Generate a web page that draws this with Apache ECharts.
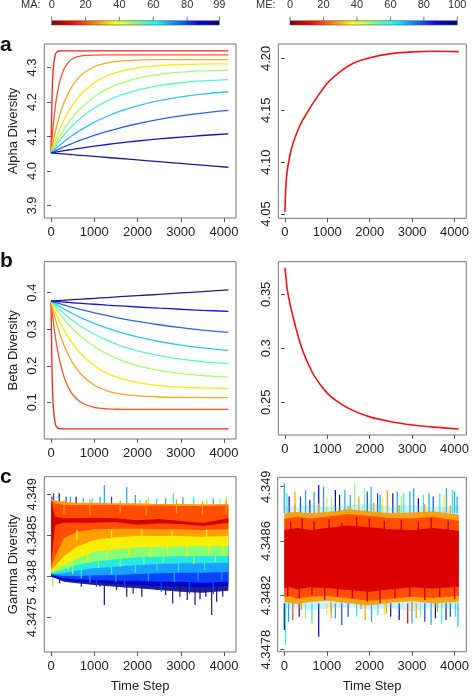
<!DOCTYPE html>
<html><head><meta charset="utf-8">
<script src="https://cdn.jsdelivr.net/npm/echarts@6/dist/echarts.min.js"></script>
<style>html,body{margin:0;padding:0;background:#fff}#c{width:472px;height:698px}</style>
</head><body><div id="c"></div>
<script>
const FONT = 'Liberation Sans';
// ---------- time axes ----------
const timeSteps = [0,25,50,100,150,200,300,400,500,700,1000,1300,1600,2000,2500,3000,3500,4100];
const gammaSteps = [0,100,300,600,1000,1500,2000,2500,3000,3500,4100];
const timeTicks = [0,1000,2000,3000,4000];
const timeTickLabels = ['0','1000','2000','3000','4000'];

// ---------- colour bars ----------
const maTicks = [0,20,40,60,80,99];
const meTicks = [0,20,40,60,80,100];

// ---------- panel a (alpha) ----------
const alphaTicks = [3.9,4.0,4.1,4.2,4.3];
const alphaTickLabels = ['3.9','4.0','4.1','4.2','4.3'];
const alpha_MA0  = [4.0525,4.219,4.292,4.3374,4.346,4.3477,4.348,4.348,4.348,4.348,4.348,4.348,4.348,4.348,4.348,4.348,4.348,4.348];
const alpha_MA11 = [4.0525,4.0947,4.1309,4.1875,4.2285,4.2583,4.2955,4.315,4.3252,4.3334,4.336,4.3364,4.3365,4.3365,4.3365,4.3365,4.3365,4.3365];
const alpha_MA22 = [4.0525,4.0693,4.085,4.1135,4.139,4.161,4.1977,4.226,4.2479,4.2781,4.3022,4.3133,4.3185,4.3214,4.3226,4.3229,4.323,4.323];
const alpha_MA33 = [4.0525,4.0623,4.0716,4.0894,4.1058,4.121,4.1481,4.1713,4.1913,4.223,4.2555,4.276,4.289,4.2991,4.3055,4.3084,4.3098,4.3105];
const alpha_MA44 = [4.0525,4.0591,4.0656,4.078,4.0897,4.1008,4.1212,4.1395,4.1559,4.1836,4.2152,4.2378,4.254,4.2687,4.2799,4.2863,4.29,4.2925];
const alpha_MA55 = [4.0525,4.0574,4.0622,4.0714,4.0802,4.0886,4.1044,4.1188,4.1319,4.1549,4.1824,4.2033,4.2192,4.2347,4.2476,4.2558,4.261,4.2648];
const alpha_MA66 = [4.0525,4.0554,4.0584,4.064,4.0695,4.0749,4.085,4.0946,4.1036,4.12,4.1412,4.1587,4.1733,4.189,4.2039,4.2148,4.2228,4.2297];
const alpha_MA77 = [4.0525,4.054,4.0556,4.0585,4.0615,4.0643,4.0699,4.0753,4.0804,4.0901,4.1032,4.1148,4.1251,4.137,4.1495,4.1596,4.1679,4.1759];
const alpha_MA88 = [4.0525,4.0531,4.0536,4.0547,4.0558,4.0568,4.0589,4.061,4.0629,4.0667,4.072,4.0769,4.0815,4.087,4.093,4.0983,4.103,4.1078];
const alpha_MA99 = [4.0525,4.0522,4.052,4.0515,4.051,4.0505,4.0495,4.0485,4.0474,4.0454,4.0424,4.0393,4.0363,4.0323,4.0272,4.0221,4.0171,4.011];
const alphaMETicks = [4.05,4.10,4.15,4.20];
const alphaMETickLabels = ['4.05','4.10','4.15','4.20'];
const alpha_ME = [4.052,4.078,4.090,4.103,4.112,4.119,4.130,4.139,4.146,4.159,4.176,4.187,4.195,4.2005,4.2045,4.2062,4.2068,4.2065];

// ---------- panel b (beta) ----------
const betaTicks = [0.1,0.2,0.3,0.4];
const betaTickLabels = ['0.1','0.2','0.3','0.4'];
const beta_MA0  = [0.377,0.1794,0.0936,0.0401,0.0299,0.028,0.0276,0.0276,0.0276,0.0276,0.0276,0.0276,0.0276,0.0276,0.0276,0.0276,0.0276,0.0276];
const beta_MA11 = [0.377,0.3489,0.3234,0.2795,0.2436,0.2142,0.1704,0.1411,0.1214,0.0994,0.086,0.0821,0.081,0.0805,0.0805,0.0805,0.0805,0.0805];
const beta_MA22 = [0.377,0.3639,0.3514,0.3283,0.3074,0.2885,0.2561,0.2297,0.2081,0.1763,0.1473,0.1316,0.1231,0.1175,0.1146,0.1136,0.1132,0.1131];
const beta_MA33 = [0.377,0.3691,0.3615,0.347,0.3335,0.3208,0.2979,0.2778,0.2602,0.2314,0.2003,0.1794,0.1654,0.1537,0.1456,0.1414,0.1393,0.138];
const beta_MA44 = [0.377,0.3724,0.3679,0.3592,0.3508,0.3428,0.3279,0.3141,0.3015,0.2794,0.2527,0.2321,0.2162,0.2006,0.1873,0.1788,0.1732,0.1691];
const beta_MA55 = [0.377,0.3739,0.3708,0.3649,0.3591,0.3536,0.343,0.3331,0.3239,0.3073,0.2863,0.2693,0.2554,0.2408,0.2275,0.218,0.2113,0.2058];
const beta_MA66 = [0.377,0.3751,0.3732,0.3694,0.3658,0.3622,0.3554,0.3489,0.3427,0.3312,0.316,0.3029,0.2916,0.279,0.2664,0.2566,0.2489,0.242];
const beta_MA77 = [0.377,0.3761,0.3751,0.3733,0.3715,0.3697,0.3662,0.3628,0.3596,0.3534,0.3447,0.3369,0.3298,0.3214,0.3122,0.3044,0.2978,0.2912];
const beta_MA88 = [0.377,0.3768,0.3765,0.3761,0.3756,0.3751,0.3742,0.3733,0.3724,0.3707,0.3683,0.3659,0.3637,0.3608,0.3576,0.3546,0.3518,0.3488];
const beta_MA99 = [0.377,0.3772,0.3774,0.3777,0.3781,0.3785,0.3792,0.38,0.3807,0.3822,0.3844,0.3866,0.3889,0.3918,0.3955,0.3992,0.4029,0.4074];
const betaMETicks = [0.25,0.3,0.35];
const betaMETickLabels = ['0.25','0.3','0.35'];
const beta_ME = [0.3746,0.366,0.356,0.345,0.336,0.328,0.313,0.300,0.290,0.274,0.2585,0.249,0.2425,0.2365,0.232,0.229,0.227,0.2253];

// ---------- panel c (gamma), left: band envelopes per MA ----------
const gammaTicks = [4.3475,4.348,4.3485,4.349];
const gammaTickLabels = ['4.3475','4.348','4.3485','4.349'];
const gamma_MA99_lo = [4.347996,4.347975,4.347935,4.347914,4.347894,4.347874,4.347853,4.347833,4.347813,4.347801,4.347825];
const gamma_MA99_hi = [4.348930,4.348890,4.348727,4.348605,4.348483,4.348402,4.348321,4.348280,4.348239,4.348239,4.348239];
const gamma_MA88_lo = [4.347996,4.347987,4.347955,4.347935,4.347922,4.347906,4.347894,4.347882,4.347874,4.347866,4.347882];
const gamma_MA88_hi = [4.348930,4.348890,4.348768,4.348666,4.348565,4.348483,4.348422,4.348382,4.348341,4.348321,4.348321];
const gamma_MA77_lo = [4.348016,4.348004,4.347975,4.347963,4.347955,4.347947,4.347947,4.347935,4.347935,4.347922,4.347935];
const gamma_MA77_hi = [4.348930,4.348910,4.348809,4.348727,4.348646,4.348585,4.348524,4.348483,4.348443,4.348422,4.348422];
const gamma_MA66_lo = [4.348028,4.348016,4.348004,4.348004,4.348012,4.348016,4.348028,4.348036,4.348044,4.348044,4.348053];
const gamma_MA66_hi = [4.348939,4.348922,4.348849,4.348788,4.348727,4.348687,4.348638,4.348605,4.348573,4.348556,4.348544];
const gamma_MA55_lo = [4.348036,4.348028,4.348036,4.348069,4.348097,4.348117,4.348138,4.348150,4.348158,4.348158,4.348166];
const gamma_MA55_hi = [4.348939,4.348930,4.348890,4.348841,4.348809,4.348768,4.348748,4.348727,4.348707,4.348687,4.348687];
const gamma_MA44_lo = [4.348044,4.348053,4.348085,4.348138,4.348179,4.348207,4.348232,4.348240,4.348248,4.348248,4.348248];
const gamma_MA44_hi = [4.348930,4.348930,4.348898,4.348870,4.348849,4.348841,4.348829,4.348817,4.348809,4.348800,4.348809];
const gamma_MA33_lo = [4.348057,4.348077,4.348138,4.348219,4.348301,4.348329,4.348354,4.348362,4.348370,4.348370,4.348370];
const gamma_MA33_hi = [4.348930,4.348922,4.348910,4.348890,4.348882,4.348870,4.348870,4.348857,4.348857,4.348849,4.348857];
const gamma_MA22_lo = [4.348077,4.348126,4.348248,4.348362,4.348443,4.348475,4.348492,4.348492,4.348492,4.348484,4.348492];
const gamma_MA22_hi = [4.348939,4.348922,4.348910,4.348898,4.348898,4.348890,4.348890,4.348882,4.348882,4.348878,4.348882];
const gamma_MA11_lo = [4.348097,4.348248,4.348463,4.348545,4.348573,4.348581,4.348581,4.348573,4.348573,4.348565,4.348573];
const gamma_MA11_hi = [4.348930,4.348890,4.348870,4.348870,4.348870,4.348870,4.348865,4.348865,4.348857,4.348857,4.348865];
const gamma_MA0_lo  = [4.348158,4.348626,4.348654,4.348654,4.348654,4.348662,4.348630,4.348646,4.348638,4.348614,4.348654];
const gamma_MA0_hi  = [4.348931,4.348728,4.348707,4.348707,4.348715,4.348707,4.348683,4.348699,4.348675,4.348650,4.348707];
// outlying excursions beyond the cloud [time, from, to, colour index 0=MA0 .. 9=MA99]
const gammaMA_outliers = [
  [20,4.34888,4.348971,9],[60,4.34888,4.349012,7],[190,4.34888,4.349012,8],[350,4.34888,4.348971,7],
  [450,4.34888,4.348971,6],[580,4.34888,4.348971,8],[747,4.34888,4.348951,6],[950,4.34888,4.348951,5],
  [1133,4.34888,4.348971,6],[1233,4.34888,4.349113,6],[1400,4.34888,4.348971,7],[1750,4.34888,4.349093,6],
  [1950,4.34888,4.348992,6],[2058,4.34888,4.348930,5],[2250,4.34888,4.348971,4],[2440,4.34888,4.348951,5],
  [2650,4.34888,4.348951,6],[2828,4.34888,4.349012,5],[3050,4.34888,4.348971,6],[3300,4.34888,4.348971,5],
  [3600,4.34888,4.348939,4],[3750,4.34888,4.348951,6],[3908,4.34888,4.348951,4],[4050,4.34888,4.348971,4],
  [40,4.34800,4.347874,4],[200,4.34800,4.347914,8],[362,4.34800,4.347975,9],[700,4.34795,4.347874,9],
  [1133,4.34790,4.347874,9],[1233,4.34790,4.347650,9],[1515,4.34790,4.347833,9],[1750,4.34790,4.347752,9],
  [1900,4.34790,4.347792,9],[2100,4.34790,4.347752,9],[2440,4.34790,4.347833,8],[2650,4.34790,4.347772,9],
  [2813,4.34790,4.347670,9],[2980,4.34790,4.347752,9],[3150,4.34790,4.347712,9],[3330,4.34790,4.347650,9],
  [3445,4.34790,4.347719,8],[3580,4.34790,4.347752,8],[3715,4.34790,4.347528,9],[3830,4.34790,4.347691,9],
  [3970,4.34790,4.347752,9]
];
// excursions across neighbouring colour layers [time, from, to, colour index]
const gammaMA_crossings = [
  [300,4.348768,4.348931,2],[900,4.348748,4.348939,2],[1600,4.348768,4.348922,2],[2200,4.348748,4.348931,2],
  [2900,4.348768,4.348939,2],[3500,4.348748,4.348922,2],[4050,4.348768,4.348931,2],
  [600,4.348443,4.348565,3],[1400,4.348475,4.348573,3],[2100,4.348475,4.348581,3],[2800,4.348475,4.348565,3],[3600,4.348475,4.348573,3],
  [400,4.348199,4.348077,3],[850,4.348301,4.348179,3],[1300,4.348341,4.348219,3],[1800,4.348362,4.348248,3],
  [2300,4.348370,4.348232,3],[2700,4.348382,4.348272,3],[3150,4.348382,4.348240,3],[3650,4.348382,4.348280,3],[4000,4.348382,4.348260,3],
  [500,4.348138,4.348028,4],[1100,4.348199,4.348097,4],[1600,4.348219,4.348117,4],[2150,4.348248,4.348138,4],
  [2600,4.348256,4.348166,4],[3300,4.348260,4.348150,4],[3800,4.348260,4.348179,4],
  [700,4.348085,4.347975,5],[1400,4.348126,4.348028,5],[1950,4.348150,4.348044,5],[2450,4.348158,4.348069,5],
  [2950,4.348166,4.348057,5],[3550,4.348175,4.348077,5],
  [900,4.348028,4.347922,6],[1500,4.348028,4.347935,6],[2250,4.348044,4.347947,6],[2850,4.348053,4.347930,6],
  [3400,4.348053,4.347947,6],[3950,4.348061,4.347955,6],
  [1050,4.347963,4.347874,7],[1700,4.347955,4.347853,7],[2550,4.347947,4.347813,7],[3200,4.347947,4.347792,7],[3750,4.347935,4.347784,7]
];

// ---------- panel c (gamma), right: envelopes over all ME ----------
const gammaMETicks = [4.3478,4.3482,4.3486,4.349];
const gammaMETickLabels = ['4.3478','4.3482','4.3486','4.349'];
const gammaME_outer_lo = [4.348116,4.348097,4.348111,4.348087,4.348102,4.348116,4.348092,4.348107,4.348082,4.348111,4.348097];
const gammaME_outer_hi = [4.348841,4.348858,4.348848,4.348868,4.348853,4.348863,4.348877,4.348853,4.348863,4.348848,4.348858];
const gammaME_mid_lo   = [4.348153,4.348146,4.348136,4.348151,4.348161,4.348141,4.348126,4.348146,4.348156,4.348141,4.348151];
const gammaME_mid_hi   = [4.348799,4.348809,4.348814,4.348804,4.348814,4.348833,4.348819,4.348804,4.348809,4.348819,4.348794];
const gammaME_inner_lo = [4.348190,4.348195,4.348175,4.348190,4.348195,4.348178,4.348161,4.348175,4.348190,4.348180,4.348195];
const gammaME_inner_hi = [4.348760,4.348770,4.348779,4.348765,4.348779,4.348799,4.348784,4.348770,4.348765,4.348779,4.348750];
const gammaME_core_lo  = [4.348251,4.348264,4.348244,4.348259,4.348254,4.348239,4.348227,4.348244,4.348259,4.348251,4.348264];
const gammaME_core_hi  = [4.348681,4.348686,4.348696,4.348681,4.348696,4.348715,4.348701,4.348686,4.348681,4.348696,4.348676];
const gammaME_outliers = [
  [0,4.348804,4.349025,6],[60,4.348804,4.348951,5],[115,4.348804,4.348927,8],[250,4.348804,4.348964,2],
  [380,4.348804,4.348927,7],[500,4.348804,4.348976,6],[600,4.348804,4.348902,9],[700,4.348804,4.348964,6],
  [808,4.348804,4.349013,8],[923,4.348804,4.349000,6],[1000,4.348804,4.348914,3],[1116,4.348804,4.348927,4],
  [1200,4.348804,4.348976,8],[1300,4.348804,4.348939,9],[1423,4.348804,4.348976,6],[1550,4.348804,4.348939,6],
  [1654,4.348804,4.349025,4],[1750,4.348804,4.348927,2],[1885,4.348804,4.348988,4],[1950,4.348804,4.348964,7],
  [2039,4.348804,4.349000,6],[2192,4.348804,4.348951,7],[2250,4.348804,4.348939,6],[2300,4.348804,4.348914,3],
  [2423,4.348804,4.348976,2],[2550,4.348804,4.348951,9],[2654,4.348804,4.348964,6],[2750,4.348804,4.348927,4],
  [2808,4.348804,4.348951,5],[2950,4.348804,4.348964,6],[3039,4.348804,4.348988,6],[3150,4.348804,4.348914,8],
  [3269,4.348804,4.348939,5],[3400,4.348804,4.348951,6],[3500,4.348804,4.348927,7],[3654,4.348804,4.348951,5],
  [3750,4.348804,4.348939,3],[3808,4.348804,4.348988,6],[3950,4.348804,4.348976,5],[4000,4.348804,4.348964,6],
  [4060,4.348804,4.348927,6],
  [0,4.348141,4.347944,9],[30,4.348141,4.347834,5],[100,4.348141,4.348006,6],[200,4.348141,4.348018,1],
  [350,4.348141,4.348043,9],[500,4.348141,4.348030,4],[650,4.348141,4.347993,5],[808,4.348141,4.347895,8],
  [1000,4.348141,4.348055,3],[1100,4.348141,4.348030,2],[1200,4.348141,4.348030,6],[1350,4.348141,4.347981,7],
  [1500,4.348141,4.348043,7],[1700,4.348141,4.348043,5],[1900,4.348141,4.348018,2],[2050,4.348141,4.348006,6],
  [2200,4.348141,4.348055,5],[2350,4.348141,4.348055,3],[2500,4.348141,4.348043,9],[2700,4.348141,4.348018,8],
  [2900,4.348141,4.347993,0],[3000,4.348141,4.347993,6],[3100,4.348141,4.348030,2],[3200,4.348141,4.348043,4],
  [3300,4.348141,4.348006,7],[3450,4.348141,4.347981,6],[3550,4.348141,4.348030,9],[3700,4.348141,4.347993,5],
  [3800,4.348141,4.348018,9],[3900,4.348141,4.348043,7],[4020,4.348141,4.348043,5],[4080,4.348141,4.347969,6]
];
const gammaME_orangeEdges = [
  [250,4.348804,4.348865,2],[800,4.348804,4.348878,2],[1500,4.348804,4.348858,2],[2100,4.348804,4.348882,2],
  [2700,4.348804,4.348865,2],[3300,4.348804,4.348873,2],[3900,4.348804,4.348863,2],
  [400,4.348153,4.348092,2],[1100,4.348153,4.348080,2],[1800,4.348153,4.348097,2],[2400,4.348153,4.348067,2],
  [3000,4.348153,4.348087,2],[3600,4.348153,4.348077,2]
];
const gammaME_redEdges = [
  [150,4.348669,4.348750,0],[420,4.348669,4.348767,0],[700,4.348669,4.348743,0],[1050,4.348669,4.348760,0],
  [1350,4.348669,4.348735,0],[1700,4.348669,4.348779,0],[2000,4.348669,4.348767,0],[2350,4.348669,4.348750,0],
  [2750,4.348669,4.348755,0],[3150,4.348669,4.348743,0],[3450,4.348669,4.348767,0],[3850,4.348669,4.348750,0],
  [80,4.348276,4.348190,0],[350,4.348276,4.348178,0],[650,4.348276,4.348202,0],[950,4.348276,4.348166,0],
  [1250,4.348276,4.348190,0],[1600,4.348276,4.348178,0],[1950,4.348276,4.348153,0],[2250,4.348276,4.348141,0],
  [2600,4.348276,4.348178,0],[2950,4.348276,4.348190,0],[3300,4.348276,4.348166,0],[3650,4.348276,4.348190,0],
  [4000,4.348276,4.348171,0]
];

// ---------- styling ----------
const lineColors = ['#ff1a1a','#ff5522','#ffa424','#f0ec10','#a6ff64','#4cffc4','#2ec4ff','#2a62ff','#1212dc','#1a1a96'];
const bandColors = ['#d40000','#ff4a00','#ff9a00','#ffee00','#8cff70','#28eedc','#1aa6ff','#0a48ff','#0000d0','#15158c'];
const jetStops = [
  {offset:0,color:'#7f0000'},{offset:0.125,color:'#ff0000'},{offset:0.25,color:'#ff7f00'},
  {offset:0.375,color:'#ffff00'},{offset:0.5,color:'#7fff7f'},{offset:0.625,color:'#00ffff'},
  {offset:0.75,color:'#007fff'},{offset:0.875,color:'#0000ff'},{offset:1,color:'#00007f'}];

const alphaSeries = [alpha_MA0,alpha_MA11,alpha_MA22,alpha_MA33,alpha_MA44,alpha_MA55,alpha_MA66,alpha_MA77,alpha_MA88,alpha_MA99];
const betaSeries = [beta_MA0,beta_MA11,beta_MA22,beta_MA33,beta_MA44,beta_MA55,beta_MA66,beta_MA77,beta_MA88,beta_MA99];
const gammaBandsLo = [gamma_MA0_lo,gamma_MA11_lo,gamma_MA22_lo,gamma_MA33_lo,gamma_MA44_lo,gamma_MA55_lo,gamma_MA66_lo,gamma_MA77_lo,gamma_MA88_lo,gamma_MA99_lo];
const gammaBandsHi = [gamma_MA0_hi,gamma_MA11_hi,gamma_MA22_hi,gamma_MA33_hi,gamma_MA44_hi,gamma_MA55_hi,gamma_MA66_hi,gamma_MA77_hi,gamma_MA88_hi,gamma_MA99_hi];

const grids = [
  {left:44.3, top:44,    width:191.7, height:174},
  {left:278.3,top:44,    width:191.7, height:174.3},
  {left:44.3, top:261.7, width:191.7, height:177.3},
  {left:278.3,top:261.7, width:191.7, height:173.3},
  {left:44.3, top:476.7, width:191.7, height:175.3},
  {left:277.7,top:477.3, width:192.3, height:174.4}
].map(g => Object.assign({show:true, borderColor:'#777', borderWidth:1, containLabel:false}, g));

function fmt(vals, labels) {
  return v => { for (let i=0;i<vals.length;i++) if (Math.abs(v-vals[i])<1e-7) return labels[i]; return ''; };
}
const txt = {fontFamily: FONT, fontSize: 13, color: '#222'};
function xAx(gi, name) {
  const ax = {type:'value', gridIndex:gi, min:-155, max:4277,
    axisLine:{show:false}, splitLine:{show:false},
    axisTick:{show:true, customValues:timeTicks, length:4, lineStyle:{color:'#555'}},
    axisLabel:Object.assign({customValues:timeTicks, formatter:fmt(timeTicks,timeTickLabels), margin:8}, txt)};
  if (name) { ax.name = name; ax.nameLocation = 'middle'; ax.nameGap = 28; ax.nameTextStyle = Object.assign({}, txt); }
  return ax;
}
function yAx(gi, min, max, ticks, labels, name) {
  const ax = {type:'value', gridIndex:gi, min, max, scale:true,
    axisLine:{show:false}, splitLine:{show:false},
    axisTick:{show:true, customValues:ticks, length:4, lineStyle:{color:'#555'}},
    axisLabel:Object.assign({customValues:ticks, formatter:fmt(ticks,labels), rotate:90, margin:5}, txt)};
  if (name) { ax.name = name; ax.nameLocation = 'middle'; ax.nameRotate = 90; ax.nameGap = 24; ax.nameTextStyle = Object.assign({}, txt); }
  return ax;
}

const series = [];
function addLine(gi, T, vals, color, w) {
  series.push({type:'line', xAxisIndex:gi, yAxisIndex:gi, data:T.map((t,i)=>[t, vals[i]]),
    showSymbol:false, smooth:0.3, lineStyle:{color, width:w}, z:3, silent:true});
}
alphaSeries.forEach((s,i)=>addLine(0, timeSteps, s, lineColors[i], 1.3));
addLine(1, timeSteps, alpha_ME, '#ff1010', 1.6);
betaSeries.forEach((s,i)=>addLine(2, timeSteps, s, lineColors[i], 1.3));
addLine(3, timeSteps, beta_ME, '#ff1010', 1.6);

function addBand(gi, lo, hi, color, opacity, z) {
  series.push({type:'custom', xAxisIndex:gi, yAxisIndex:gi, z, silent:true, clip:true,
    data: gammaSteps.map((t,i)=>[t, lo[i], hi[i]]),
    encode:{x:0, y:[1,2]},
    renderItem(params, api) {
      if (params.dataIndex !== 0) return null;
      const pts = [];
      for (let i=0;i<gammaSteps.length;i++) pts.push(api.coord([gammaSteps[i], hi[i]]));
      for (let i=gammaSteps.length-1;i>=0;i--) pts.push(api.coord([gammaSteps[i], lo[i]]));
      return {type:'polygon', shape:{points:pts}, style:{fill:color, opacity}};
    }});
}
function addSpikes(gi, spikes, z, w) {
  series.push({type:'custom', xAxisIndex:gi, yAxisIndex:gi, z, silent:true, clip:true,
    data: spikes, encode:{x:0, y:[1,2]},
    renderItem(params, api) {
      const a = api.coord([api.value(0), api.value(1)]);
      const b = api.coord([api.value(0), api.value(2)]);
      return {type:'line', shape:{x1:a[0],y1:a[1],x2:b[0],y2:b[1]}, style:{stroke:bandColors[api.value(3)], lineWidth:w}};
    }});
}
addSpikes(4, gammaMA_outliers, 2, 1.2);
for (let i=9;i>=0;i--) addBand(4, gammaBandsLo[i], gammaBandsHi[i], bandColors[i], 0.95, 12 - i);
addSpikes(4, gammaMA_crossings, 11, 1.2);
addSpikes(5, gammaME_outliers, 2, 1.2);
addBand(5, gammaME_outer_lo, gammaME_outer_hi, '#40c8f0', 0.28, 3);
addBand(5, gammaME_mid_lo, gammaME_mid_hi, '#ff9a00', 0.92, 4);
addSpikes(5, gammaME_orangeEdges, 5, 1.3);
addBand(5, gammaME_inner_lo, gammaME_inner_hi, '#ff4a00', 0.95, 6);
addBand(5, gammaME_core_lo, gammaME_core_hi, '#dd0000', 1, 7);
addSpikes(5, gammaME_redEdges, 8, 1.4);

// ---------- colour bars & labels (graphic) ----------
const graphic = [];
function colorBar(title, titleX, x0, x1, ticks, vmax) {
  graphic.push({type:'text', x:titleX, y:5, style:{text:title, font:'11px '+FONT, fill:'#333', align:'left', verticalAlign:'middle'}});
  graphic.push({type:'rect', shape:{x:x0, y:20.7, width:x1-x0, height:4.3},
    style:{fill:new echarts.graphic.LinearGradient(0,0,1,0,jetStops), stroke:'#555', lineWidth:0.6}});
  ticks.forEach(v => {
    const x = x0 + (x1-x0)*v/vmax;
    graphic.push({type:'line', shape:{x1:x,y1:16.7,x2:x,y2:20.7}, style:{stroke:'#555', lineWidth:0.8}});
    graphic.push({type:'text', x:x, y:5, style:{text:String(v), font:'11px '+FONT, fill:'#333', align:'center', verticalAlign:'middle'}});
  });
}
colorBar('MA:', 21, 51.7, 219.3, maTicks, 99);
colorBar('ME:', 256, 290, 457.3, meTicks, 100);
[['a',45],['b',261],['c',477]].forEach(([t,y]) => graphic.push({type:'text', x:0, y:y,
  style:{text:t, font:'bold 21px '+FONT, fill:'#111', align:'left', verticalAlign:'middle'}}));

const option = {
  animation:false, backgroundColor:'#fff',
  grid: grids,
  xAxis: [xAx(0), xAx(1), xAx(2), xAx(3), xAx(4,'Time Step'), xAx(5,'Time Step')],
  yAxis: [
    yAx(0, 3.864, 4.368, alphaTicks, alphaTickLabels, 'Alpha Diversity'),
    yAx(1, 4.0459, 4.2138, alphaMETicks, alphaMETickLabels),
    yAx(2, -0.0003, 0.4847, betaTicks, betaTickLabels, 'Beta Diversity'),
    yAx(3, 0.2197, 0.3802, betaMETicks, betaMETickLabels),
    yAx(4, 4.347077, 4.349215, gammaTicks, gammaTickLabels, 'Gamma Diversity'),
    yAx(5, 4.347785, 4.349069, gammaMETicks, gammaMETickLabels)
  ],
  series, graphic
};
const chart = echarts.init(document.getElementById('c'), null, {renderer:'canvas'});
chart.setOption(option);
</script></body></html>
